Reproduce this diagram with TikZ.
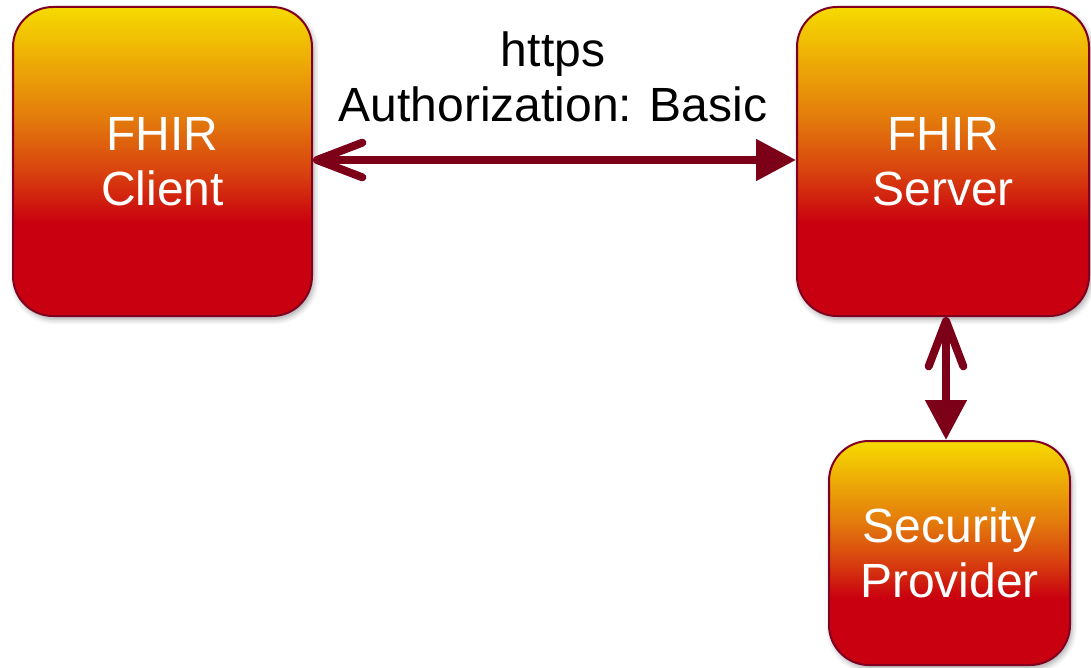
\documentclass[tikz,border=0pt]{standalone}
\usepackage{fontspec}
\setmainfont{Liberation Sans}
\usetikzlibrary{arrows.meta,shadows.blur}

\definecolor{boxyellow}{HTML}{F6DA00}
\definecolor{boxorange}{HTML}{E37B0C}
\definecolor{boxember}{HTML}{D8400F}
\definecolor{boxred}{HTML}{C9000F}
\definecolor{boxedge}{HTML}{7F0020}
\definecolor{linkred}{HTML}{7D0019}

% bottom of the box sits at 25bp, top at 75bp
\pgfdeclareverticalshading{firegrad}{100bp}{%
  color(0bp)=(boxred); color(25bp)=(boxred); color(40bp)=(boxred);
  color(48bp)=(boxember); color(57bp)=(boxorange);
  color(75bp)=(boxyellow); color(100bp)=(boxyellow)}

\tikzset{
  firebox/.style={draw=boxedge, line width=1.5pt, rounded corners=30pt,
    shading=firegrad, text=white, align=center,
    font=\fontsize{36}{41}\selectfont, inner sep=0pt,
    blur shadow={shadow xshift=1.5pt, shadow yshift=-2.5pt,
      shadow opacity=35, shadow blur radius=4pt}},
  link/.style={draw=linkred, line width=6pt},
  barbtip/.tip={Straight Barb[length=34pt, width=26pt, line cap=round, round]},
  fulltip/.tip={Triangle[length=30pt, width=30pt]},
  caption/.style={align=center, font=\fontsize{36}{41}\selectfont, inner sep=0pt}
}

\begin{document}
\begin{tikzpicture}[x=0.75pt, y=-0.75pt]
  \useasboundingbox (0,0) rectangle (1091,667);

  \node[firebox, minimum width=299*0.75pt, minimum height=309*0.75pt]
    (client) at (162.5,161.5) {FHIR\\Client};
  \node[firebox, minimum width=292*0.75pt, minimum height=309*0.75pt]
    (server) at (943,161.5) {FHIR\\Server};
  \node[firebox, minimum width=241*0.75pt, minimum height=224*0.75pt]
    (security) at (949.5,553) {Security\\Provider};

  \node[caption] (label) at (553,77) {https\\Authorization: Basic};

  \coordinate (lefttip) at (client.east |- 0,160);
  \coordinate (righttip) at (server.west |- 0,160);
  \draw[link, barbtip-fulltip] (lefttip) -- (righttip);

  \coordinate (uptip) at (server.south -| 946,0);
  \coordinate (downtip) at (security.north -| 946,0);
  \draw[link, barbtip-fulltip] (uptip) -- (downtip);
\end{tikzpicture}
\end{document}
